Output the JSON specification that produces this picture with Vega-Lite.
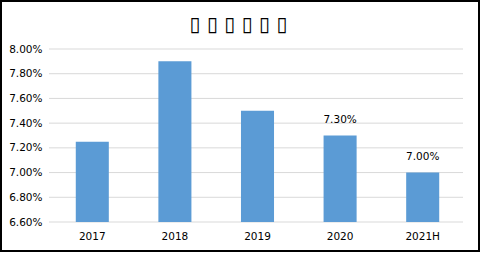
{
  "$schema": "https://vega.github.io/schema/vega-lite/v6.json",
  "width": 478,
  "height": 250,
  "autosize": {"type": "none"},
  "padding": {"left": 1, "top": 1, "right": 3, "bottom": 3},
  "background": "white",
  "config": {
    "view": {"stroke": "#000000", "strokeWidth": 2},
    "font": "DejaVu Sans",
    "axis": {"labelOverlap": false}
  },
  "datasets": {
    "rates": [
      {"year": "2017", "rate": 0.0725},
      {"year": "2018", "rate": 0.079},
      {"year": "2019", "rate": 0.075},
      {"year": "2020", "rate": 0.073},
      {"year": "2021H", "rate": 0.07}
    ],
    "grid": [
      {"tick": 0.066}, {"tick": 0.068}, {"tick": 0.07}, {"tick": 0.072},
      {"tick": 0.074}, {"tick": 0.076}, {"tick": 0.078}, {"tick": 0.08}
    ]
  },
  "resolve": {"scale": {"x": "independent"}, "axis": {"x": "independent"}},
  "layer": [
    {
      "data": {"name": "grid"},
      "mark": {"type": "rule", "color": "#D9D9D9", "strokeWidth": 1},
      "encoding": {
        "x": {
          "datum": 0, "type": "quantitative",
          "scale": {"domain": [0, 1], "range": [48, 462]},
          "axis": {
            "orient": "top", "labels": false, "ticks": false, "domain": false, "grid": false,
            "title": "▯ ▯ ▯ ▯ ▯ ▯",
            "titleX": 237, "titleY": 29, "titleAnchor": "middle", "titleAlign": "center", "titleBaseline": "alphabetic",
            "titleFont": "DejaVu Sans", "titleFontSize": 20, "titleFontWeight": "normal", "titleColor": "#000000"
          }
        },
        "x2": {"datum": 1},
        "y": {
          "field": "tick", "type": "quantitative",
          "scale": {"domain": [0.066, 0.08], "range": [221, 48], "zero": false, "nice": false},
          "axis": {
            "orient": "left", "offset": -48, "title": null, "domain": false, "ticks": false, "grid": false,
            "tickCount": 7,
            "labelOverlap": false, "labelBound": false, "labelFlush": false,
            "format": ".2%", "labelPadding": 7, "labelFont": "DejaVu Sans", "labelFontSize": 10.5, "labelColor": "#000000"
          }
        }
      }
    },
    {
      "data": {"name": "rates"},
      "encoding": {
        "x": {
          "field": "year", "type": "nominal", "sort": null,
          "scale": {"range": [50, 463], "paddingInner": 0.6, "paddingOuter": 0.3},
          "axis": {
            "orient": "bottom", "offset": -29, "title": null, "domain": false, "ticks": false,
            "labelPadding": 9, "labelFont": "DejaVu Sans", "labelFontSize": 10.5, "labelColor": "#000000", "labelAngle": 0, "grid": false
          }
        }
      },
      "layer": [
        {
          "mark": {"type": "bar", "color": "#5B9BD5"},
          "encoding": {
            "y": {"field": "rate", "type": "quantitative"},
            "y2": {"datum": 0.066}
          }
        },
        {
          "transform": [{"filter": "datum.year == '2020' || datum.year == '2021H'"}],
          "mark": {"type": "text", "baseline": "bottom", "dy": -11, "font": "DejaVu Sans", "fontSize": 10.5, "color": "#000000"},
          "encoding": {
            "y": {"field": "rate", "type": "quantitative"},
            "text": {"field": "rate", "type": "quantitative", "format": ".2%"}
          }
        }
      ]
    }
  ]
}
